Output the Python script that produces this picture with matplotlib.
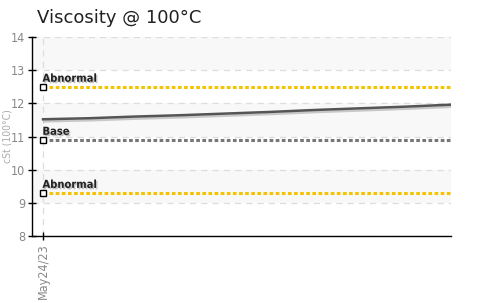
import matplotlib
matplotlib.use("Agg")
import matplotlib.pyplot as plt
import matplotlib.dates as mdates
import matplotlib.patheffects as pe
import datetime as dt

# Data
dates = [dt.date(2023, 5, 24) + dt.timedelta(days=i) for i in range(0, 100, 11)]
viscosity = [11.52, 11.55, 11.60, 11.64, 11.69, 11.74, 11.80, 11.85, 11.90, 11.96]
limit_names = ["Abnormal", "Base", "Abnormal"]
limit_values = [12.5, 10.9, 9.3]
limit_colors = ["#f5c400", "#777777", "#f5c400"]
y_ticks = [8, 9, 10, 11, 12, 13, 14]
x_tick_labels = ["May24/23"]

fig = plt.figure(figsize=(4.86, 3.03), dpi=100)
ax = fig.add_axes([32/486, 1-236/303, (451-32)/486, (236-37)/303])

xd = mdates.date2num(dates)
span = xd[-1] - xd[0]
pad = span * 11 / 408
ax.set_xlim(xd[0] - pad, xd[-1])
ax.set_ylim(8, 14)

for lo in [9, 11, 13]:
    ax.axhspan(lo, lo + 1, color="#f8f8f8", zorder=0, lw=0)

for y in y_ticks:
    ax.axhline(y, color="#dddddd", lw=0.9, ls=(0, (5, 4)), zorder=1)
ax.axvline(xd[0], color="#dddddd", lw=0.9, ls=(0, (5, 4)), zorder=1)

for name, val, col in zip(limit_names, limit_values, limit_colors):
    ax.plot([xd[0], xd[-1]], [val, val], color=col, lw=2.2, ls=(0, (1.2, 0.8)), zorder=3)
    ax.plot([xd[0]], [val], marker="s", ms=4.5, mfc="white", mec="black", mew=1.0, zorder=5)
    ax.text(xd[0] - pad * 0.05, val + 0.09, name, fontsize=8, fontweight="bold", color="#222222",
            fontstretch="condensed", ha="left", va="bottom", zorder=6,
            path_effects=[pe.withSimplePatchShadow(offset=(1, -1), shadow_rgbFace="#999999", alpha=0.6)])

ax.plot(xd, viscosity, color="#555555", lw=1.8, zorder=4,
        path_effects=[pe.SimpleLineShadow(offset=(1, -1.5), shadow_color="#999999", alpha=0.5), pe.Normal()])

ax.set_yticks(y_ticks)
ax.set_xticks([xd[0]])
ax.set_xticklabels(x_tick_labels, rotation=90)
for lab in ax.get_xticklabels() + ax.get_yticklabels():
    lab.set_fontstretch("condensed")
ax.tick_params(axis="both", colors="black", labelcolor="#888888", labelsize=9, width=1)
ax.tick_params(axis="both", direction="inout", length=6, pad=2)
for s in ["top", "right"]:
    ax.spines[s].set_visible(False)
for s in ["left", "bottom"]:
    ax.spines[s].set_color("black")
    ax.spines[s].set_linewidth(1)

ax.set_ylabel("cSt (100°C)", color="#aaaaaa", fontsize=7.5, fontstretch="condensed")
ax.yaxis.set_label_coords(-20/419, 0.5)

fig.text(37/486, 1-18/303, "Viscosity @ 100°C", fontsize=13, color="#222222", ha="left", va="center")

fig.savefig("out.png", dpi=100)
